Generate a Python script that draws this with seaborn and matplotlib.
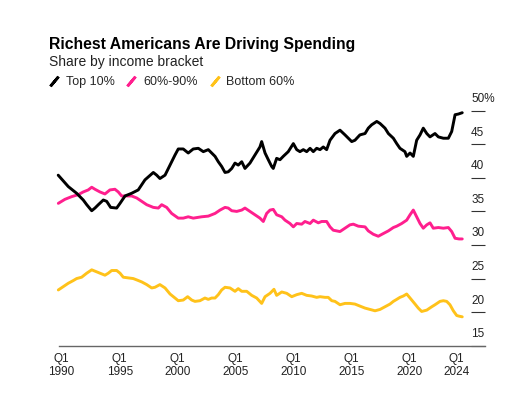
import matplotlib
matplotlib.use('Agg')
import matplotlib.pyplot as plt
import matplotlib.transforms as mtransforms
from matplotlib.lines import Line2D
import pandas as pd
import seaborn as sns

# Shares of spending (%), at decimal-year positions
top10_year = [1989.70, 1990.57, 1991.29, 1991.86, 1992.16, 1992.59, 1992.87, 1993.16, 1993.59, 1993.88,
              1994.22, 1994.74, 1995.03, 1995.46, 1996.03, 1996.60, 1997.18, 1997.90, 1998.19, 1998.47,
              1998.91, 1999.34, 1999.77, 2000.05, 2000.48, 2000.91, 2001.34, 2001.78, 2002.21, 2002.64,
              2002.93, 2003.22, 2003.50, 2003.79, 2004.08, 2004.36, 2004.66, 2004.94, 2005.22, 2005.52,
              2005.80, 2006.23, 2006.66, 2007.09, 2007.24, 2007.53, 2007.81, 2008.10, 2008.24, 2008.53,
              2008.82, 2009.10, 2009.53, 2009.97, 2010.26, 2010.54, 2010.83, 2011.12, 2011.41, 2011.69,
              2011.98, 2012.27, 2012.55, 2012.84, 2013.13, 2013.56, 2013.99, 2014.42, 2015.00, 2015.28,
              2015.71, 2016.15, 2016.43, 2016.72, 2017.16, 2017.44, 2017.87, 2018.16, 2018.59, 2018.88,
              2019.16, 2019.59, 2019.74, 2020.03, 2020.31, 2020.60, 2020.89, 2021.17, 2021.47, 2021.75,
              2022.18, 2022.47, 2022.90, 2023.33, 2023.62, 2023.91, 2024.19, 2024.53]
top10_share = [40.4, 38.7, 37.7, 36.7, 36.0, 35.1, 35.5, 36.0, 36.7, 36.5,
               35.6, 35.5, 36.2, 37.3, 37.7, 38.2, 39.7, 40.8, 40.4, 39.9,
               40.4, 41.9, 43.4, 44.3, 44.3, 43.7, 44.3, 44.4, 43.9, 44.2,
               43.7, 43.2, 42.4, 41.7, 40.8, 40.9, 41.4, 42.2, 41.9, 42.4,
               41.4, 42.2, 43.4, 44.6, 45.4, 43.7, 42.7, 41.7, 41.4, 42.9,
               42.7, 43.2, 43.9, 45.1, 44.2, 43.9, 44.2, 43.9, 44.4, 43.9,
               44.4, 44.2, 44.6, 44.2, 45.6, 46.6, 47.1, 46.4, 45.4, 45.6,
               46.4, 46.6, 47.4, 47.9, 48.4, 48.1, 47.4, 46.6, 45.9, 45.1,
               44.4, 43.9, 43.2, 43.7, 43.2, 45.6, 46.4, 47.4, 46.6, 46.1,
               46.6, 46.1, 45.9, 45.9, 46.9, 49.4, 49.5, 49.7]

mid_year = [1989.71, 1990.28, 1990.86, 1991.43, 1991.86, 1992.29, 1992.59, 1992.87, 1993.30, 1993.73,
            1994.16, 1994.59, 1994.88, 1995.17, 1995.60, 1996.03, 1996.47, 1996.90, 1997.33, 1997.90,
            1998.33, 1998.62, 1999.05, 1999.48, 2000.05, 2000.48, 2000.91, 2001.34, 2002.07, 2002.64,
            2003.22, 2003.65, 2004.08, 2004.36, 2004.66, 2005.09, 2005.52, 2005.80, 2006.23, 2006.66,
            2007.09, 2007.38, 2007.67, 2007.96, 2008.24, 2008.53, 2008.97, 2009.25, 2009.68, 2009.97,
            2010.26, 2010.69, 2010.97, 2011.41, 2011.69, 2012.12, 2012.41, 2012.84, 2013.13, 2013.41,
            2013.99, 2014.42, 2014.85, 2015.14, 2015.57, 2016.15, 2016.43, 2016.86, 2017.29, 2017.72,
            2018.16, 2018.59, 2018.88, 2019.31, 2019.74, 2020.03, 2020.31, 2020.60, 2020.89, 2021.17,
            2021.47, 2021.75, 2022.03, 2022.47, 2022.90, 2023.33, 2023.62, 2023.91, 2024.25, 2024.53]
mid_share = [36.2, 36.8, 37.2, 37.5, 37.9, 38.2, 38.6, 38.3, 37.9, 37.6,
             38.2, 38.3, 37.9, 37.3, 37.3, 37.3, 37.0, 36.5, 36.0, 35.6,
             35.5, 36.0, 35.6, 34.7, 34.0, 34.0, 34.2, 34.0, 34.2, 34.3,
             34.7, 35.2, 35.6, 35.5, 35.1, 35.0, 35.2, 35.5, 35.0, 34.5,
             34.0, 33.5, 34.7, 35.2, 35.3, 34.5, 34.2, 33.7, 33.2, 32.7,
             33.2, 33.1, 33.5, 33.2, 33.7, 33.3, 33.5, 33.5, 32.7, 32.2,
             32.0, 32.5, 33.0, 33.1, 32.8, 32.7, 32.1, 31.6, 31.3, 31.7,
             32.1, 32.6, 32.8, 33.2, 33.7, 34.5, 35.2, 34.2, 33.2, 32.5,
             33.0, 33.3, 32.5, 32.6, 32.5, 32.6, 32.0, 31.0, 30.9, 30.9]

bottom_year = [1989.71, 1990.14, 1990.57, 1991.00, 1991.29, 1991.72, 1992.16, 1992.59, 1993.02, 1993.30,
               1993.73, 1994.02, 1994.31, 1994.74, 1995.03, 1995.31, 1995.74, 1996.17, 1996.47, 1996.90,
               1997.33, 1997.76, 1998.04, 1998.47, 1998.91, 1999.34, 1999.77, 2000.05, 2000.48, 2000.86,
               2001.21, 2001.49, 2001.92, 2002.35, 2002.64, 2002.93, 2003.22, 2003.50, 2003.79, 2004.08,
               2004.51, 2004.94, 2005.22, 2005.52, 2005.95, 2006.38, 2006.81, 2007.24, 2007.53, 2007.96,
               2008.30, 2008.53, 2008.97, 2009.40, 2009.83, 2010.26, 2010.69, 2011.12, 2011.55, 2011.98,
               2012.27, 2012.70, 2012.98, 2013.28, 2013.56, 2013.99, 2014.42, 2014.85, 2015.28, 2015.71,
               2016.15, 2016.58, 2017.01, 2017.44, 2017.87, 2018.30, 2018.59, 2018.88, 2019.16, 2019.45,
               2019.74, 2020.03, 2020.46, 2020.74, 2021.03, 2021.47, 2021.90, 2022.18, 2022.61, 2022.90,
               2023.19, 2023.47, 2023.76, 2024.05, 2024.25, 2024.53]
bottom_share = [23.3, 23.8, 24.3, 24.7, 25.0, 25.2, 25.8, 26.3, 26.0, 25.8,
                25.5, 25.8, 26.2, 26.2, 25.8, 25.2, 25.1, 25.0, 24.8, 24.5,
                24.1, 23.6, 23.7, 24.1, 23.6, 22.7, 22.1, 21.7, 21.8, 22.3,
                21.8, 21.6, 21.7, 22.1, 21.9, 22.1, 22.1, 22.6, 23.3, 23.7,
                23.6, 23.1, 23.5, 23.1, 23.1, 22.5, 22.1, 21.3, 22.3, 22.8,
                23.4, 22.5, 23.0, 22.8, 22.3, 22.6, 22.8, 22.5, 22.4, 22.2,
                22.3, 22.2, 22.2, 21.7, 21.6, 21.1, 21.3, 21.3, 21.2, 20.9,
                20.6, 20.4, 20.2, 20.4, 20.8, 21.2, 21.6, 21.9, 22.2, 22.4,
                22.7, 22.1, 21.2, 20.6, 20.1, 20.3, 20.8, 21.1, 21.6, 21.7,
                21.6, 21.1, 20.2, 19.5, 19.4, 19.3]

brackets = ['Top 10%', '60%-90%', 'Bottom 60%']
colors = ['#000000', '#ff1f8e', '#ffc21a']

x_ticks = [1990, 1995, 2000, 2005, 2010, 2015, 2020, 2024]
x_labels = ['Q1\n' + str(y) for y in x_ticks]
y_ticks = [15, 20, 25, 30, 35, 40, 45, 50]
y_labels = ['15', '20', '25', '30', '35', '40', '45', '50%']

df = pd.concat([
    pd.DataFrame({'year': top10_year, 'share': top10_share, 'bracket': brackets[0]}),
    pd.DataFrame({'year': mid_year, 'share': mid_share, 'bracket': brackets[1]}),
    pd.DataFrame({'year': bottom_year, 'share': bottom_share, 'bracket': brackets[2]}),
])

sns.set_style('white')
plt.rcParams['font.family'] = ['Liberation Sans', 'DejaVu Sans']

fig = plt.figure(figsize=(5.11, 3.94), dpi=100)
ax = fig.add_axes([59 / 511, 1 - 345.7 / 394, 426 / 511, 235 / 394])

# black drawn last so it sits on top where the lines cross
sns.lineplot(data=df, x='year', y='share', hue='bracket',
             hue_order=brackets[::-1], palette=dict(zip(brackets, colors)),
             linewidth=2.1, legend=False, ax=ax)
for line in ax.lines:
    line.set_clip_on(False)

ax.set_xlim(1989.77, 2026.49)
ax.set_ylim(15, 50)
ax.set_xlabel('')
ax.set_ylabel('')

for side in ['top', 'left', 'right']:
    ax.spines[side].set_visible(False)
ax.spines['bottom'].set_color('#666666')
ax.spines['bottom'].set_linewidth(1.0)

ax.set_xticks(x_ticks, x_labels)
ax.tick_params(axis='x', length=3, width=0.8, color='#666666', labelsize=8.5,
               labelcolor='#222222', pad=2)

# right-hand scale: short inward ticks with the label sitting on top
ax.yaxis.tick_right()
ax.set_yticks(y_ticks, y_labels)
ax.tick_params(axis='y', direction='in', length=10, width=0.8, color='#333333',
               labelsize=8.5, labelcolor='#222222', pad=-10)
lift = mtransforms.ScaledTranslation(0, 4 / 72, fig.dpi_scale_trans)
for lab in ax.get_yticklabels():
    lab.set_verticalalignment('bottom')
    lab.set_horizontalalignment('left')
    lab.set_transform(lab.get_transform() + lift)

fig.text(49 / 511, 1 - 49 / 394, 'Richest Americans Are Driving Spending',
         fontsize=11.3, fontweight='bold', color='#000000', va='baseline')
fig.text(49 / 511, 1 - 66 / 394, 'Share by income bracket',
         fontsize=10, color='#222222', va='baseline')

handles = [Line2D([], [], color=c, marker=(2, 2, -40), linestyle='None',
                  markersize=9, markeredgewidth=2) for c in colors]
fig.legend(handles, brackets, loc='center left', bbox_to_anchor=(48 / 511, 1 - 82 / 394),
           ncol=3, frameon=False, fontsize=9, handlelength=0.9, handletextpad=0.5,
           columnspacing=0.9, borderpad=0, borderaxespad=0)

fig.savefig('out.png', dpi=100)
